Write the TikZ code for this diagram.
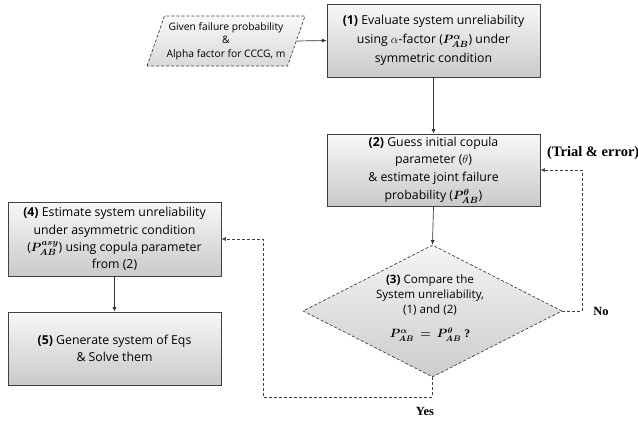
\documentclass[tikz,border=0pt]{standalone}
\usepackage{amsmath}
\usepackage{bm}
\usepackage{fontspec}
\setmainfont{Open Sans}
\newfontfamily\labelfont{Liberation Serif}
\usetikzlibrary{shapes.geometric,arrows.meta}
\tikzset{
  procbox/.style={rectangle, draw=black!75, line width=0.9pt, top color=gray!6, bottom color=gray!42,
    minimum width=213pt, align=center, inner sep=2pt, font=\fontsize{12.3}{19}\selectfont},
  arr/.style={draw=black!80, line width=0.7pt, -{Latex[length=4.5pt,width=4pt]}},
  darr/.style={draw=black!75, line width=0.7pt, dash pattern=on 3pt off 2pt, -{Latex[length=4.5pt,width=4pt]}},
  lbl/.style={font=\labelfont\bfseries\fontsize{12.5}{14}\selectfont, inner sep=0pt}
}
\begin{document}
\begin{tikzpicture}[x=1pt,y=-1pt]
\useasboundingbox (0,0) rectangle (638,421);
% input parallelogram
\node[shape=trapezium, trapezium left angle=65, trapezium right angle=115, trapezium stretches body=true,
  minimum width=158pt, minimum height=50pt, inner sep=0pt, draw=black!75, line width=0.7pt,
  dash pattern=on 3pt off 2pt, top color=gray!5, bottom color=gray!30, align=center,
  font=\fontsize{10.3}{13.5}\selectfont] (in) at (226,41)
  {Given failure probability\\ \&\\ Alpha factor for CCCG, m};
% box 1
\node[procbox, minimum height=73pt] (b1) at (433.5,40.5)
  {\textbf{(1)} Evaluate system unreliability\\ using $\alpha$-factor ($\bm{P^{\alpha}_{AB}}$) under\\ symmetric condition};
% box 2
\node[procbox, minimum height=72pt, font=\fontsize{12.3}{17.8}\selectfont] (b2) at (433.5,170)
  {\textbf{(2)} Guess initial copula\\ parameter ($\theta$)\\ \& estimate joint failure\\ probability ($\bm{P^{\theta}_{AB}}$)};
% diamond
\node[diamond, minimum width=259pt, minimum height=132pt, inner sep=0pt, draw=black!75, line width=0.7pt,
  dash pattern=on 3pt off 2pt, top color=gray!8, bottom color=gray!40] (d3) at (432.5,311) {};
\node[align=center, font=\fontsize{11.6}{15}\selectfont, inner sep=0pt] (d3t) at (430,308)
  {\textbf{(3)} Compare the\\ System unreliability,\\ (1) and (2)\\[9pt]
   {\boldmath$P^{\alpha}_{AB}\,=\,P^{\theta}_{AB}$}\ \labelfont\bfseries ?};
% box 4
\node[procbox, minimum height=74pt, font=\fontsize{12.3}{17.3}\selectfont] (b4) at (114.5,239)
  {\textbf{(4)} Estimate system unreliability\\ under asymmetric condition\\ ($\bm{P^{asy}_{AB}}$) using copula parameter\\ from (2)};
% box 5
\node[procbox, minimum height=73pt, font=\fontsize{12.3}{16.5}\selectfont] (b5) at (114.5,348.5)
  {\textbf{(5)} Generate system of Eqs\\ \& Solve them};
% connectors
\draw[arr] (in.east) -- (b1.west);
\draw[arr] (b1.south) -- (b2.north);
\draw[arr] (b2.south) -- (d3.north);
\draw[arr] (b4.south) -- (b5.north);
\coordinate (noc) at (582,311);
\draw[darr] (d3.east) -- (noc) |- (b2.east);
\coordinate (yc1) at (432.5,397);
\coordinate (yc2) at (263,397);
\draw[darr] (d3.south) -- (yc1) -- (yc2) |- (b4.east);
% labels
\node[lbl, anchor=west, font=\labelfont\bfseries\fontsize{14.5}{16}\selectfont] (trial) at (547,153) {(Trial \& error)};
\node[lbl] (no) at (601,311) {No};
\node[lbl] (yes) at (425,411) {Yes};
\end{tikzpicture}
\end{document}
